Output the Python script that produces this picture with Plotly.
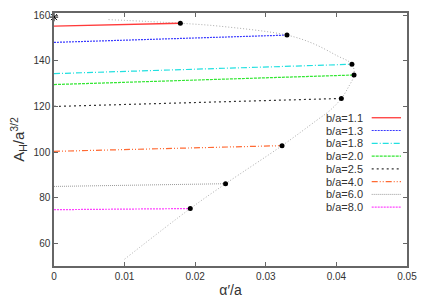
import plotly.graph_objects as go

# ---- data ----
labels = ["b/a=1.1", "b/a=1.3", "b/a=1.8", "b/a=2.0", "b/a=2.5", "b/a=4.0", "b/a=6.0", "b/a=8.0"]
start_y = [155.2, 148.1, 134.4, 129.6, 120.0, 100.3, 84.9, 74.7]
end_x = [0.0179, 0.0330, 0.0422, 0.0425, 0.0407, 0.0323, 0.0243, 0.0193]
end_y = [156.5, 151.3, 138.5, 133.8, 123.5, 102.8, 86.1, 75.2]

envelope_x = [0.0100, 0.0193, 0.0243, 0.0323, 0.0372, 0.0391, 0.0407, 0.0417, 0.0425,
              0.0422, 0.0400, 0.0367, 0.0330, 0.0235, 0.0179, 0.0077]
envelope_y = [53.0, 75.2, 86.1, 102.8, 113.9, 118.3, 123.5, 128.5, 133.8,
              138.5, 142.4, 147.6, 151.3, 155.2, 156.5, 158.1]

star_x = [0.0]
star_y = [159.2]

x_ticks = [0, 0.01, 0.02, 0.03, 0.04, 0.05]
x_ticklabels = ["0", "0.01", "0.02", "0.03", "0.04", "0.05"]
y_ticks = [60, 80, 100, 120, 140, 160]

# ---- styles ----
colors = ["#ff3a3a", "#3a3aff", "#22e0e0", "#33e633", "#333333", "#ff6a33", "#9a9a9a", "#ff44ff"]
dashes = ["solid", "2px,1px", "6px,2px,1px,2px", "3px,1px", "2px,3px",
          "6px,2px,1px,2px,1px,2px", "1px,1px", "2px,1px"]
widths = [1.3, 1.2, 1.2, 1.2, 1.2, 1.2, 1.0, 1.2]

FONT = "Liberation Sans, Arial, sans-serif"

fig = go.Figure()

fig.add_trace(go.Scatter(x=envelope_x, y=envelope_y, mode="lines",
                         line=dict(color="#aaaaaa", width=1, dash="1px,2px", shape="spline"),
                         showlegend=False, hoverinfo="skip"))

for i in range(len(labels)):
    fig.add_trace(go.Scatter(x=[0.0, end_x[i]], y=[start_y[i], end_y[i]], mode="lines",
                             line=dict(color=colors[i], width=widths[i], dash=dashes[i]),
                             name=labels[i], showlegend=False))

fig.add_trace(go.Scatter(x=end_x, y=end_y, mode="markers",
                         marker=dict(color="black", size=5), showlegend=False))
fig.add_trace(go.Scatter(x=star_x, y=star_y, mode="markers",
                         marker=dict(color="black", size=7, symbol="asterisk-open",
                                     line=dict(color="black", width=1)),
                         showlegend=False, cliponaxis=False))

# manual gnuplot-style key: text then line sample
annotations = []
shapes = []
row0 = 0.586
step = 0.0505
for i, lab in enumerate(labels):
    yy = row0 - i * step
    annotations.append(dict(x=0.881, y=yy, xref="paper", yref="paper", text=lab,
                            showarrow=False, xanchor="right", yanchor="middle",
                            font=dict(family=FONT, size=11, color="#333")))
    shapes.append(dict(type="line", xref="paper", yref="paper", x0=0.9, x1=0.983, y0=yy, y1=yy,
                       line=dict(color=colors[i], width=widths[i], dash=dashes[i])))

axis_common = dict(showline=True, linecolor="#666666", linewidth=1.5, mirror="ticks",
                   ticks="inside", ticklen=4, tickcolor="#666666", showgrid=False,
                   zeroline=False, automargin=False,
                   tickfont=dict(family=FONT, size=10, color="#333"))

# page body has an 8px margin, so the figure is sized/offset to compensate
fig.update_layout(
    width=417, height=290,
    margin=dict(l=46, r=18, t=5, b=32),
    plot_bgcolor="white", paper_bgcolor="white",
    xaxis=dict(range=[0, 0.05], tickvals=x_ticks, ticktext=x_ticklabels,
               title=dict(text="α′/a", standoff=4,
                          font=dict(family=FONT, size=14, color="#333")),
               **axis_common),
    yaxis=dict(range=[50, 161], tickvals=y_ticks,
               title=dict(text="A<sub>H</sub>/a<sup>3/2</sup>", standoff=20,
                          font=dict(family=FONT, size=15, color="#333")),
               **axis_common),
    annotations=annotations, shapes=shapes,
)

fig.write_html("out.html")
